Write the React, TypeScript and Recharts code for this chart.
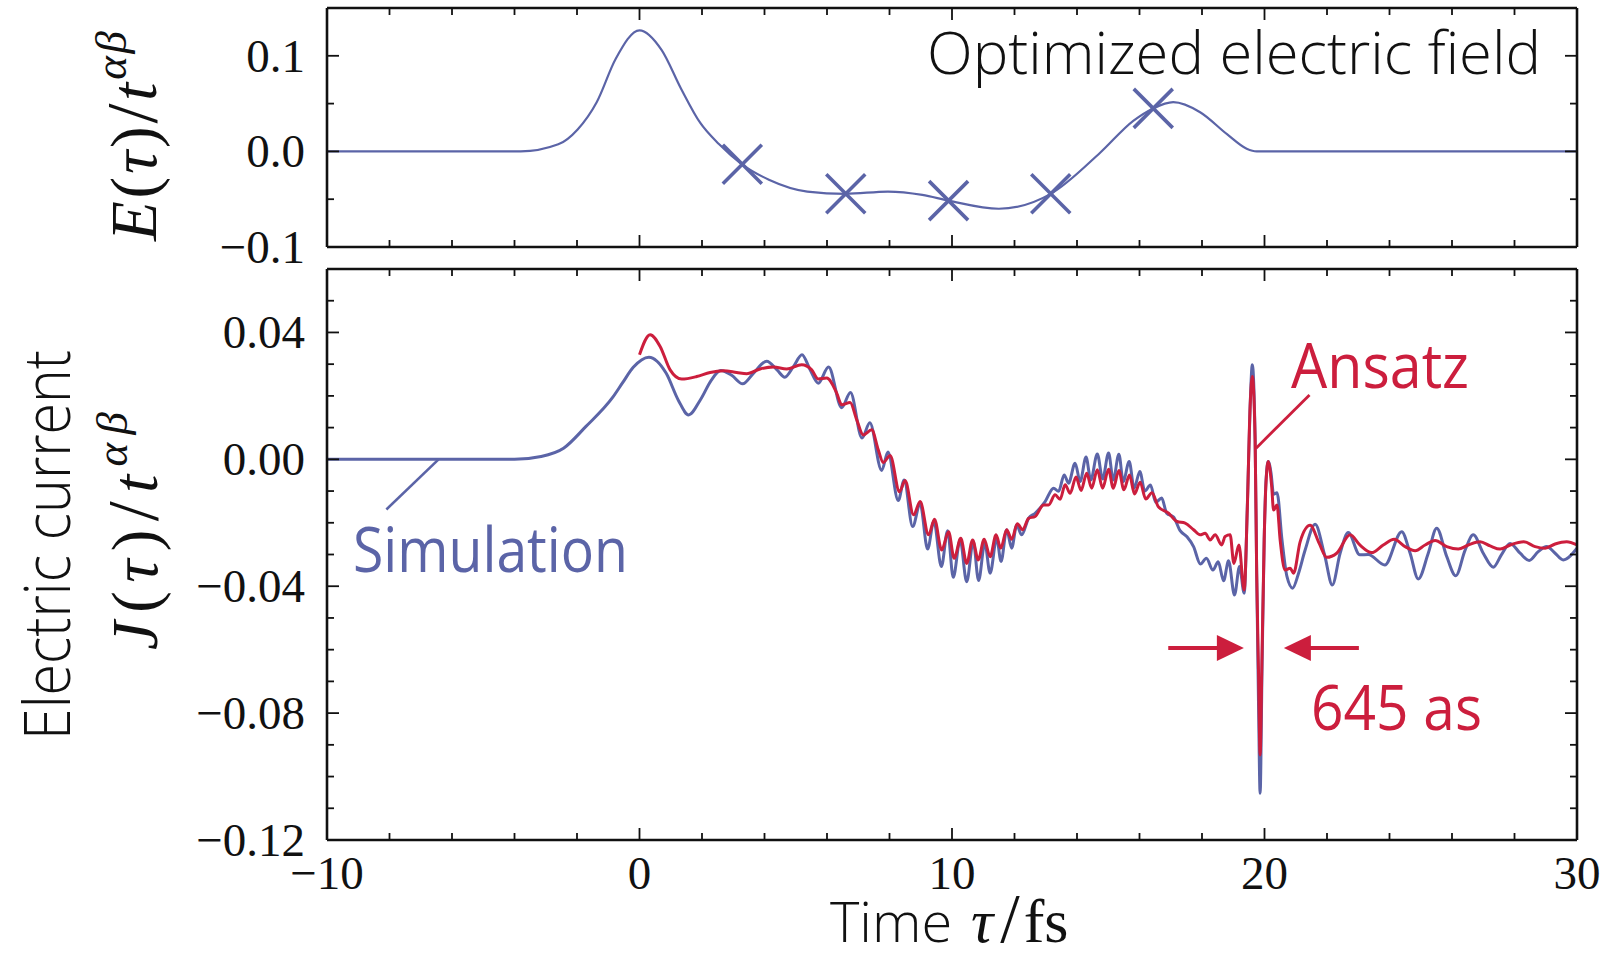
import React from 'react';
import { LineChart, Line, XAxis, YAxis, ReferenceLine, ReferenceDot } from 'recharts';

const W = 1611;
const BLUE = '#5b64a7';
const RED = '#cc1e3d';
const INK = '#111111';
const SERIF = "'Liberation Serif', 'Times New Roman', serif";
const SANS = "'Open Sans', 'Noto Sans', sans-serif";

// ---------- top panel: optimized electric field ----------
const fieldTime = [-10, -3.8, -2.6, -1.98, -1.37, -0.76, 0, 0.71, 1.33, 1.94, 2.55, 3.29, 4.14, 5.37, 6.6, 7.95, 9.05, 9.89, 11.5, 13.16, 14.74, 15.8, 16.44, 17.08, 17.94, 18.8, 19.43, 19.75, 30];
const fieldValue = [0, 0, 0.0074, 0.023, 0.0515, 0.097, 0.1267, 0.106, 0.0656, 0.03, 0.0074, -0.0138, -0.0296, -0.042, -0.0444, -0.042, -0.0455, -0.0515, -0.06, -0.0444, -0.0014, 0.032, 0.045, 0.0515, 0.041, 0.018, 0.0028, 0, 0];
const markerTime = [3.29, 6.6, 9.89, 13.16, 16.44];
const markerValue = [-0.0135, -0.0444, -0.0515, -0.0444, 0.045];

// ---------- bottom panel: electric current ----------
const simTime = [-10, -4.0, -3.15, -2.43, -1.72, -0.86, -0.55, -0.2, 0.3, 0.85, 1.25, 1.57, 1.95, 2.3, 2.6, 2.95, 3.3, 3.65, 4.07, 4.4, 4.65, 4.93, 5.2, 5.46, 5.72, 6.05, 6.47, 6.75, 7.12, 7.37, 7.75, 7.95, 8.28, 8.47, 8.74, 8.98, 9.22, 9.42, 9.66, 9.86, 10.04, 10.26, 10.47, 10.68, 10.85, 11.05, 11.22, 11.43, 11.57, 11.75, 11.91, 12.07, 12.23, 12.45, 12.66, 12.98, 13.25, 13.41, 13.59, 13.73, 13.94, 14.1, 14.29, 14.44, 14.65, 14.82, 15.01, 15.16, 15.34, 15.48, 15.67, 15.83, 16.01, 16.17, 16.35, 16.52, 16.71, 16.87, 17.09, 17.3, 17.52, 17.73, 17.95, 18.14, 18.35, 18.52, 18.69, 18.85, 19.04, 19.2, 19.35, 19.45, 19.54, 19.61, 19.7, 19.75, 19.81, 19.86, 19.92, 19.99, 20.05, 20.12, 20.21, 20.29, 20.4, 20.56, 20.72, 20.9, 21.09, 21.3, 21.62, 21.92, 22.17, 22.42, 22.68, 23.05, 23.32, 23.85, 24.39, 24.66, 24.92, 25.24, 25.51, 25.83, 26.12, 26.42, 26.68, 27.0, 27.32, 27.58, 27.86, 28.18, 28.47, 28.76, 29.03, 29.3, 29.56, 30.0];
const simCurrent = [0, 0, 0.0009, 0.0035, 0.0103, 0.0195, 0.024, 0.029, 0.0322, 0.0272, 0.0185, 0.014, 0.0188, 0.025, 0.028, 0.0265, 0.0238, 0.0272, 0.0309, 0.0282, 0.0259, 0.0293, 0.033, 0.0282, 0.024, 0.0291, 0.0163, 0.0211, 0.0067, 0.0115, -0.0035, 0.0023, -0.013, -0.0065, -0.0212, -0.014, -0.0283, -0.0195, -0.0338, -0.0225, -0.0372, -0.0254, -0.0386, -0.0259, -0.0382, -0.0264, -0.0359, -0.0249, -0.0322, -0.0222, -0.028, -0.0207, -0.0238, -0.0186, -0.017, -0.0133, -0.0091, -0.0101, -0.0049, -0.0075, -0.0012, -0.007, 0.0007, -0.0065, 0.0017, -0.0062, 0.002, -0.0065, 0.0016, -0.007, -0.0007, -0.0091, -0.0038, -0.01, -0.0081, -0.0135, -0.0122, -0.017, -0.0182, -0.0225, -0.0244, -0.0275, -0.033, -0.0312, -0.0349, -0.0323, -0.0383, -0.032, -0.0428, -0.0338, -0.0422, -0.015, 0.0167, 0.0298, 0.0062, -0.036, -0.078, -0.1053, -0.067, -0.0254, -0.0065, -0.0007, -0.0044, -0.011, -0.0105, -0.0254, -0.037, -0.0406, -0.0359, -0.0286, -0.0205, -0.03, -0.0396, -0.0296, -0.0231, -0.0301, -0.03, -0.0333, -0.0228, -0.0296, -0.0377, -0.0296, -0.0217, -0.0306, -0.0367, -0.0286, -0.0238, -0.0296, -0.034, -0.0301, -0.0265, -0.0296, -0.0319, -0.0291, -0.0275, -0.0296, -0.0317, -0.028];

const ansTime = [0.0, 0.34, 0.66, 0.98, 1.35, 1.83, 2.26, 2.69, 3.11, 3.43, 3.86, 4.29, 4.71, 5.19, 5.51, 5.72, 5.99, 6.31, 6.47, 6.74, 6.95, 7.16, 7.43, 7.64, 7.8, 8.02, 8.32, 8.5, 8.77, 8.98, 9.25, 9.44, 9.67, 9.89, 10.07, 10.28, 10.47, 10.66, 10.84, 11.03, 11.22, 11.41, 11.56, 11.75, 11.91, 12.09, 12.26, 12.45, 12.66, 12.93, 13.09, 13.3, 13.46, 13.62, 13.78, 13.97, 14.13, 14.31, 14.47, 14.65, 14.82, 15.01, 15.16, 15.34, 15.5, 15.68, 15.84, 16.02, 16.2, 16.4, 16.6, 16.93, 17.2, 17.46, 17.73, 17.94, 18.1, 18.26, 18.42, 18.63, 18.74, 18.9, 19.02, 19.18, 19.35, 19.45, 19.54, 19.61, 19.7, 19.75, 19.81, 19.86, 19.92, 19.99, 20.05, 20.12, 20.23, 20.29, 20.4, 20.5, 20.66, 20.82, 20.93, 21.14, 21.46, 21.75, 21.99, 22.31, 22.74, 23.05, 23.43, 23.8, 24.15, 24.5, 24.82, 25.14, 25.46, 25.83, 26.2, 26.52, 26.9, 27.22, 27.54, 27.86, 28.3, 28.66, 28.98, 29.3, 29.67, 30.0];
const ansCurrent = [0.033, 0.0393, 0.0356, 0.0282, 0.0253, 0.0261, 0.0274, 0.0279, 0.0274, 0.027, 0.0285, 0.0291, 0.0285, 0.0298, 0.0282, 0.0253, 0.0256, 0.0209, 0.0172, 0.0179, 0.0125, 0.0077, 0.0093, 0.003, -0.001, 0.0012, -0.0102, -0.0067, -0.0175, -0.0133, -0.0238, -0.0189, -0.0286, -0.0228, -0.0312, -0.0249, -0.0328, -0.0254, -0.0317, -0.0252, -0.0307, -0.0238, -0.028, -0.0222, -0.0252, -0.0203, -0.0222, -0.0186, -0.018, -0.0144, -0.0144, -0.0112, -0.0126, -0.008, -0.0107, -0.0056, -0.0098, -0.0044, -0.0091, -0.0033, -0.0091, -0.0031, -0.0091, -0.0035, -0.0096, -0.0049, -0.0109, -0.0072, -0.0125, -0.0105, -0.0149, -0.017, -0.0196, -0.0201, -0.0222, -0.0238, -0.0233, -0.0254, -0.0238, -0.027, -0.0243, -0.0238, -0.0328, -0.027, -0.0412, -0.0156, 0.0167, 0.0261, 0.0062, -0.036, -0.0675, -0.0932, -0.0622, -0.0254, -0.007, -0.0007, -0.0086, -0.016, -0.0144, -0.0254, -0.0349, -0.0343, -0.0359, -0.026, -0.0208, -0.0265, -0.0309, -0.0296, -0.0238, -0.027, -0.0294, -0.027, -0.0252, -0.0275, -0.0288, -0.027, -0.0256, -0.0275, -0.0283, -0.027, -0.026, -0.0273, -0.0283, -0.027, -0.026, -0.0275, -0.028, -0.0267, -0.026, -0.027];

// ---------- ticks ----------
const timeMajorTicks = [-10, 0, 10, 20, 30];
const timeTickLabels = ['\u221210', '0', '10', '20', '30'];
const timeMinorTicks = [-8, -6, -4, -2, 2, 4, 6, 8, 12, 14, 16, 18, 22, 24, 26, 28];
const fieldMajorTicks = [-0.1, 0, 0.1];
const fieldTickLabels = ['\u22120.1', '0.0', '0.1'];
const fieldMinorTicks = [-0.05, 0.05];
const currentMajorTicks = [-0.12, -0.08, -0.04, 0, 0.04];
const currentTickLabels = ['\u22120.12', '\u22120.08', '\u22120.04', '0.00', '0.04'];
const currentMinorTicks = [-0.11, -0.1, -0.09, -0.07, -0.06, -0.05, -0.03, -0.02, -0.01, 0.01, 0.02, 0.03, 0.05];

// ---------- annotations (data coordinates) ----------
const simLeader = [{ x: -8.1, y: -0.0158 }, { x: -6.43, y: 0 }];
const ansLeader = [{ x: 21.44, y: 0.0203 }, { x: 19.73, y: 0.0035 }];
const arrowLevel = -0.0595;
const rightArrow = { tail: 16.92, base: 18.55, tip: 19.34 };
const leftArrow = { tail: 23.02, base: 21.45, tip: 20.62 };

const fieldData = fieldTime.map((t, i) => ({ t, e: fieldValue[i] }));
const markerData = markerTime.map((t, i) => ({ t, e: markerValue[i] }));
const simData = simTime.map((t, i) => ({ t, j: simCurrent[i] }));
const ansData = ansTime.map((t, i) => ({ t, j: ansCurrent[i] }));

const sortNum = (a: number[]) => [...a].sort((p, q) => p - q);
const timeTicks = sortNum([...timeMajorTicks, ...timeMinorTicks]);
const fieldTicks = sortNum([...fieldMajorTicks, ...fieldMinorTicks]);
const currentTicks = sortNum([...currentMajorTicks, ...currentMinorTicks]);

const frame = { stroke: INK, strokeWidth: 2.6 };
const TICK_FS = 47;

function makeTick(side: string, majors: number[], labels: string[] | null) {
  return (props: any) => {
    const { x, y, payload } = props;
    const v = payload.value;
    const mi = majors.findIndex((m) => Math.abs(m - v) < 1e-9);
    const major = mi >= 0;
    const len = major ? 12 : 7;
    let x2 = x;
    let y2 = y;
    if (side === 'bottom') y2 = y - len;
    if (side === 'top') y2 = y + len;
    if (side === 'left') x2 = x + len;
    if (side === 'right') x2 = x - len;
    let label = null;
    if (labels && major) {
      if (side === 'bottom') {
        label = (
          <text x={x} y={y + 33} dy={TICK_FS * 0.34} textAnchor="middle" fontFamily={SERIF} fontSize={TICK_FS} fill={INK}>
            {labels[mi]}
          </text>
        );
      } else {
        label = (
          <text x={x - 22} y={y} dy={TICK_FS * 0.34} textAnchor="end" fontFamily={SERIF} fontSize={TICK_FS} fill={INK}>
            {labels[mi]}
          </text>
        );
      }
    }
    return (
      <g>
        <line x1={x} y1={y} x2={x2} y2={y2} stroke={INK} strokeWidth={1.8} />
        {label}
      </g>
    );
  };
}

const renderCross = (props: any) => {
  const { cx, cy, index } = props;
  if (cx == null || cy == null) return <g key={`c${index}`} />;
  const s = 19.5;
  return (
    <g key={`c${index}`}>
      <line x1={cx - s} y1={cy - s} x2={cx + s} y2={cy + s} stroke={BLUE} strokeWidth={3.6} />
      <line x1={cx - s} y1={cy + s} x2={cx + s} y2={cy - s} stroke={BLUE} strokeWidth={3.6} />
    </g>
  );
};

const headRight = (props: any) => {
  const { cx, cy } = props;
  return <path d={`M${cx},${cy} L${cx - 27},${cy - 13} L${cx - 27},${cy + 13} Z`} fill={RED} />;
};
const headLeft = (props: any) => {
  const { cx, cy } = props;
  return <path d={`M${cx},${cy} L${cx + 27},${cy - 13} L${cx + 27},${cy + 13} Z`} fill={RED} />;
};

export default function App() {
  return (
    <div style={{ position: 'absolute', left: 0, top: 0, width: W, height: 960, background: '#ffffff', overflow: 'hidden' }}>
      {/* top panel */}
      <div style={{ position: 'absolute', left: 0, top: 0 }}>
        <LineChart width={W} height={290} margin={{ top: 3, right: 24, bottom: 33, left: 267 }}>
          <XAxis xAxisId="b" dataKey="t" type="number" domain={[-10, 30]} ticks={timeTicks} orientation="bottom" height={10}
            tickSize={0} tickMargin={0} interval={0} tickLine={false} axisLine={frame} tick={makeTick('bottom', timeMajorTicks, null)} allowDataOverflow />
          <XAxis xAxisId="t" dataKey="t" type="number" domain={[-10, 30]} ticks={timeTicks} orientation="top" height={5}
            tickSize={0} tickMargin={0} interval={0} tickLine={false} axisLine={frame} tick={makeTick('top', timeMajorTicks, null)} allowDataOverflow />
          <YAxis yAxisId="l" type="number" domain={[-0.1, 0.15]} ticks={fieldTicks} orientation="left" width={60}
            tickSize={0} tickMargin={0} interval={0} tickLine={false} axisLine={frame} tick={makeTick('left', fieldMajorTicks, fieldTickLabels)} allowDataOverflow />
          <YAxis yAxisId="r" type="number" domain={[-0.1, 0.15]} ticks={fieldTicks} orientation="right" width={10}
            tickSize={0} tickMargin={0} interval={0} tickLine={false} axisLine={frame} tick={makeTick('right', fieldMajorTicks, null)} allowDataOverflow />
          <Line xAxisId="t" yAxisId="r" data={fieldData} dataKey="e" type="monotone" stroke="none" dot={false} activeDot={false} isAnimationActive={false} />
          <Line xAxisId="b" yAxisId="l" data={fieldData} dataKey="e" type="monotone" stroke={BLUE} strokeWidth={2.2} dot={false} activeDot={false} isAnimationActive={false} />
          <Line xAxisId="b" yAxisId="l" data={markerData} dataKey="e" stroke="none" dot={renderCross} activeDot={false} isAnimationActive={false} />
        </LineChart>
      </div>

      {/* bottom panel */}
      <div style={{ position: 'absolute', left: 0, top: 0 }}>
        <LineChart width={W} height={960} margin={{ top: 259, right: 24, bottom: 80, left: 267 }}>
          <XAxis xAxisId="b" dataKey="t" type="number" domain={[-10, 30]} ticks={timeTicks} orientation="bottom" height={40}
            tickSize={0} tickMargin={0} interval={0} tickLine={false} axisLine={frame} tick={makeTick('bottom', timeMajorTicks, timeTickLabels)} allowDataOverflow />
          <XAxis xAxisId="t" dataKey="t" type="number" domain={[-10, 30]} ticks={timeTicks} orientation="top" height={10}
            tickSize={0} tickMargin={0} interval={0} tickLine={false} axisLine={frame} tick={makeTick('top', timeMajorTicks, null)} allowDataOverflow />
          <YAxis yAxisId="l" type="number" domain={[-0.12, 0.06]} ticks={currentTicks} orientation="left" width={60}
            tickSize={0} tickMargin={0} interval={0} tickLine={false} axisLine={frame} tick={makeTick('left', currentMajorTicks, currentTickLabels)} allowDataOverflow />
          <YAxis yAxisId="r" type="number" domain={[-0.12, 0.06]} ticks={currentTicks} orientation="right" width={10}
            tickSize={0} tickMargin={0} interval={0} tickLine={false} axisLine={frame} tick={makeTick('right', currentMajorTicks, null)} allowDataOverflow />
          <Line xAxisId="t" yAxisId="r" data={simData} dataKey="j" type="monotone" stroke="none" dot={false} activeDot={false} isAnimationActive={false} />
          <Line xAxisId="b" yAxisId="l" data={simData} dataKey="j" type="monotone" stroke={BLUE} strokeWidth={3} dot={false} activeDot={false} isAnimationActive={false} />
          <Line xAxisId="b" yAxisId="l" data={ansData} dataKey="j" type="monotone" stroke={RED} strokeWidth={3} dot={false} activeDot={false} isAnimationActive={false} />
          <ReferenceLine xAxisId="b" yAxisId="l" segment={simLeader} stroke={BLUE} strokeWidth={2.6} ifOverflow="visible" />
          <ReferenceLine xAxisId="b" yAxisId="l" segment={ansLeader} stroke={RED} strokeWidth={2.8} ifOverflow="visible" />
          <ReferenceLine xAxisId="b" yAxisId="l" segment={[{ x: rightArrow.tail, y: arrowLevel }, { x: rightArrow.base, y: arrowLevel }]} stroke={RED} strokeWidth={4} ifOverflow="visible" />
          <ReferenceLine xAxisId="b" yAxisId="l" segment={[{ x: leftArrow.tail, y: arrowLevel }, { x: leftArrow.base, y: arrowLevel }]} stroke={RED} strokeWidth={4} ifOverflow="visible" />
          <ReferenceDot xAxisId="b" yAxisId="l" x={rightArrow.tip} y={arrowLevel} r={1} shape={headRight} ifOverflow="visible" />
          <ReferenceDot xAxisId="b" yAxisId="l" x={leftArrow.tip} y={arrowLevel} r={1} shape={headLeft} ifOverflow="visible" />
        </LineChart>
      </div>

      {/* titles and annotation texts */}
      <svg width={W} height={960} style={{ position: 'absolute', left: 0, top: 0, pointerEvents: 'none' }}>
        <text x={1541} y={74} textAnchor="end" fontFamily={SANS} fontWeight={300} fontSize={58} fill={INK} textLength={614} lengthAdjust="spacingAndGlyphs">
          Optimized electric field
        </text>
        <text x={353} y={572} fontFamily={SANS} fontSize={62} fill={BLUE} textLength={275} lengthAdjust="spacingAndGlyphs">Simulation</text>
        <text x={1291} y={388} fontFamily={SANS} fontSize={63} fill={RED} textLength={178} lengthAdjust="spacingAndGlyphs">Ansatz</text>
        <text x={1311} y={730} fontFamily={SANS} fontSize={63} fill={RED} textLength={171} lengthAdjust="spacingAndGlyphs">645 as</text>

        <text transform="translate(70,545) rotate(-90)" textAnchor="middle" fontFamily={SANS} fontWeight={300} fontSize={64} fill={INK} textLength={390} lengthAdjust="spacingAndGlyphs">
          Electric current
        </text>

        <text transform="translate(156,136) rotate(-90)" textAnchor="middle" fontFamily={SERIF} fontSize={65} fill={INK} textLength={210} lengthAdjust="spacing">
          <tspan fontStyle="italic">E</tspan>
          <tspan>(</tspan>
          <tspan fontStyle="italic">τ</tspan>
          <tspan>)</tspan>
          <tspan fontSize={72}>/</tspan>
          <tspan fontStyle="italic">t</tspan>
          <tspan fontStyle="italic" fontSize={45} dy={-30}>αβ</tspan>
        </text>

        <text transform="translate(157,531) rotate(-90)" textAnchor="middle" fontFamily={SERIF} fontSize={65} fill={INK} textLength={238} lengthAdjust="spacing">
          <tspan fontStyle="italic">J</tspan>
          <tspan>(</tspan>
          <tspan fontStyle="italic">τ</tspan>
          <tspan>)</tspan>
          <tspan fontSize={72}>/</tspan>
          <tspan fontStyle="italic">t</tspan>
          <tspan fontStyle="italic" fontSize={45} dy={-30}>αβ</tspan>
        </text>

        <text x={830} y={942} fontFamily={SANS} fontWeight={300} fontSize={56} fill={INK}>Time</text>
        <text x={971} y={942} fontFamily={SERIF} fontSize={62} fill={INK}>
          <tspan fontStyle="italic">τ</tspan>
          <tspan fontSize={70} dx={7}>/</tspan>
          <tspan dx={4}>fs</tspan>
        </text>
      </svg>
    </div>
  );
}
